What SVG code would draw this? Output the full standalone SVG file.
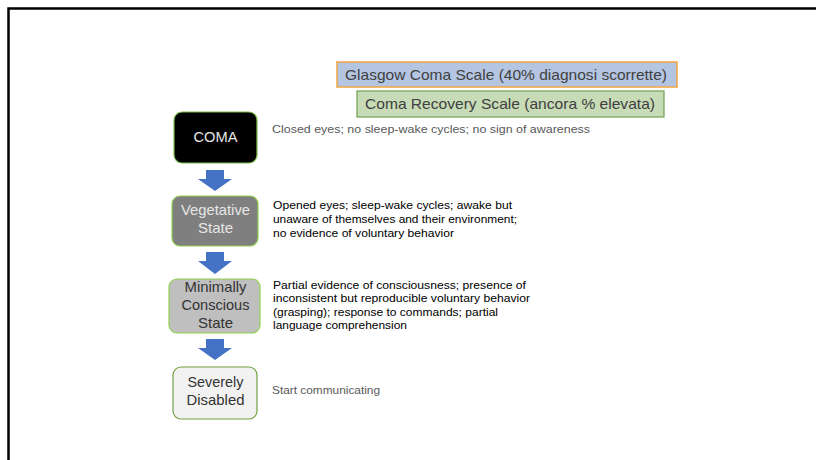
<svg xmlns="http://www.w3.org/2000/svg" width="816" height="460" viewBox="0 0 816 460">
  <defs>
    <style>
      text { font-family: "Liberation Sans", Arial, sans-serif; }
      .node-t { font-size: 15px; text-anchor: middle; }
      .desc { font-size: 11px; fill: #000; }
      .desc-g { font-size: 11px; fill: #595959; }
      .scale-t { font-size: 15px; fill: #404040; }
      .arrow { fill: #4472c4; }
    </style>
  </defs>
  <rect x="0" y="0" width="816" height="460" fill="#ffffff"/>
  <path d="M818,8.5 H8.5 V462" fill="none" stroke="#000" stroke-width="2.5"/>

  <g id="glasgow">
    <rect x="337" y="62" width="340" height="25" fill="#b4c5e2" stroke="#f4a440" stroke-width="1.5"/>
    <text class="scale-t" x="345" y="80" textLength="322" lengthAdjust="spacingAndGlyphs">Glasgow Coma Scale (40% diagnosi scorrette)</text>
  </g>
  <g id="crs">
    <rect x="357" y="91" width="307" height="26" fill="#c6dbb6" stroke="#70a050" stroke-width="1.2"/>
    <text class="scale-t" x="365" y="109" textLength="290" lengthAdjust="spacingAndGlyphs">Coma Recovery Scale (ancora % elevata)</text>
  </g>

  <g id="coma">
    <rect x="174" y="112" width="83" height="51" rx="8" fill="#000" stroke="#7cbf4a" stroke-width="1.2"/>
    <text class="node-t" x="215.5" y="142" fill="#e6e6e6" textLength="44" lengthAdjust="spacingAndGlyphs">COMA</text>
    <text class="desc-g" x="272" y="133" textLength="318" lengthAdjust="spacingAndGlyphs">Closed eyes; no sleep-wake cycles; no sign of awareness</text>
  </g>

  <g id="vegetative">
    <rect x="172" y="196" width="86" height="50" rx="8" fill="#7f7f7f" stroke="#92d050" stroke-width="1.2"/>
    <text class="node-t" x="215.5" y="215" fill="#e6e6e6" textLength="69" lengthAdjust="spacingAndGlyphs">Vegetative</text>
    <text class="node-t" x="215.5" y="233" fill="#e6e6e6">State</text>
    <text class="desc" x="273" y="209" textLength="239" lengthAdjust="spacingAndGlyphs">Opened eyes; sleep-wake cycles; awake but</text>
    <text class="desc" x="273" y="223" textLength="244" lengthAdjust="spacingAndGlyphs">unaware of themselves and their environment;</text>
    <text class="desc" x="273" y="237" textLength="181" lengthAdjust="spacingAndGlyphs">no evidence of voluntary behavior</text>
  </g>

  <g id="minimally">
    <rect x="169" y="279" width="91" height="54" rx="8" fill="#bfbfbf" stroke="#92d050" stroke-width="1.2"/>
    <text class="node-t" x="215.5" y="292" fill="#333" textLength="62" lengthAdjust="spacingAndGlyphs">Minimally</text>
    <text class="node-t" x="215.5" y="310" fill="#333" textLength="68" lengthAdjust="spacingAndGlyphs">Conscious</text>
    <text class="node-t" x="215.5" y="328" fill="#333">State</text>
    <text class="desc" x="273" y="289" textLength="253" lengthAdjust="spacingAndGlyphs">Partial evidence of consciousness; presence of</text>
    <text class="desc" x="273" y="302" textLength="257" lengthAdjust="spacingAndGlyphs">inconsistent but reproducible voluntary behavior</text>
    <text class="desc" x="273" y="316" textLength="225" lengthAdjust="spacingAndGlyphs">(grasping); response to commands; partial</text>
    <text class="desc" x="273" y="329" textLength="134" lengthAdjust="spacingAndGlyphs">language comprehension</text>
  </g>

  <g id="severely">
    <rect x="173" y="367" width="84" height="52" rx="8" fill="#f2f2f2" stroke="#70a040" stroke-width="1.2"/>
    <text class="node-t" x="215.5" y="387" fill="#333" textLength="56" lengthAdjust="spacingAndGlyphs">Severely</text>
    <text class="node-t" x="215.5" y="405" fill="#333" textLength="58" lengthAdjust="spacingAndGlyphs">Disabled</text>
    <text class="desc-g" x="272" y="394" textLength="108" lengthAdjust="spacingAndGlyphs">Start communicating</text>
  </g>

  <g id="connectors">
    <polygon class="arrow" points="206,170 224,170 224,179 232,179 215,191 198,179 206,179"/>
    <polygon class="arrow" points="206,252 224,252 224,261 232,261 215,274 198,261 206,261"/>
    <polygon class="arrow" points="206,339 224,339 224,348 232,348 215,360 198,348 206,348"/>
  </g>
</svg>
